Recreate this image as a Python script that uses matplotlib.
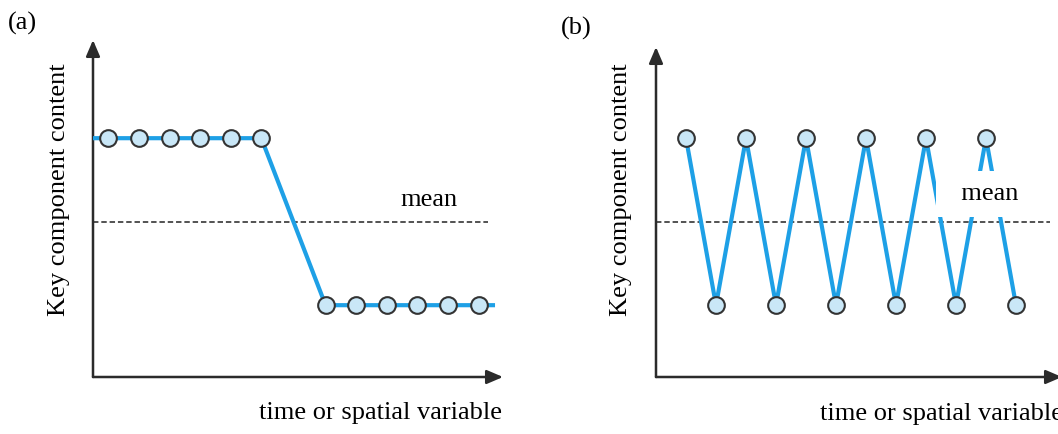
import matplotlib
matplotlib.use("Agg")
import matplotlib.pyplot as plt

plt.rcParams['font.family'] = ['Liberation Serif', 'DejaVu Serif']

# data (arbitrary units)
HIGH = 3.0
LOW = 1.0
MEAN = 2.0

a_high_x = [0.5, 1.5, 2.5, 3.5, 4.5, 5.5]
a_low_x = [7.6, 8.6, 9.6, 10.6, 11.6, 12.6]
a_line_x = [0.0] + a_high_x + a_low_x + [13.07]
a_line_y = [HIGH] * 7 + [LOW] * 7

b_x = [1, 2, 3, 4, 5, 6, 7, 8, 9, 10, 11, 12]
b_y = [HIGH, LOW] * 6

ylabel = 'Key component content'
xlabel = 'time or spatial variable'

W, H = 1058, 434
fig = plt.figure(figsize=(W / 100, H / 100), dpi=100)

line_c = '#1ea0e6'
face_c = '#c9e7f7'
edge_c = '#333333'
axis_c = '#2b2b2b'


def px_axes(x0, x1, ytop, ybot):
    return fig.add_axes([x0 / W, (H - ybot) / H, (x1 - x0) / W, (ybot - ytop) / H])


def draw_frame(ax):
    ax.set_axis_off()
    kw = dict(arrowstyle='-|>,head_length=0.7,head_width=0.3', color=axis_c, lw=1.8,
              shrinkA=0, shrinkB=0, mutation_scale=14)
    ax.annotate('', xy=(0, 1), xytext=(0, 0), xycoords='axes fraction', arrowprops=kw)
    ax.annotate('', xy=(1, 0), xytext=(0, 0), xycoords='axes fraction', arrowprops=kw)


ms = 12
mew = 1.5
fs = 19

# panel (a)
ax1 = px_axes(93, 503, 40, 377)
ax1.set_xlim(0, 410 / 30.6)
ax1.set_ylim(0.14, 0.14 + 337 / 83.5)
draw_frame(ax1)
ax1.hlines(MEAN, 0, 12.9, colors='#444444', linestyles=(0, (3, 1.6)), lw=1.3)
ax1.plot(a_line_x, a_line_y, color=line_c, lw=3, zorder=3)
ax1.plot(a_high_x + a_low_x, [HIGH] * 6 + [LOW] * 6, ls='none', marker='o', ms=ms,
         mfc=face_c, mec=edge_c, mew=mew, zorder=4)
ax1.text(10.98, 2.26, 'mean', fontsize=fs, ha='center', va='center')

# panel (b)
ax2 = px_axes(656, 1062, 47, 377)
ax2.set_xlim(0, 406 / 30)
ax2.set_ylim(0.14, 0.14 + 330 / 83.5)
draw_frame(ax2)
ax2.hlines(MEAN, 0, 13.13, colors='#444444', linestyles=(0, (3, 1.6)), lw=1.3)
ax2.plot(b_x, b_y, color=line_c, lw=3, zorder=3)
ax2.plot(b_x, b_y, ls='none', marker='o', ms=ms,
         mfc=face_c, mec=edge_c, mew=mew, zorder=4)
ax2.text(11.13, 2.33, '  mean  ', fontsize=fs, ha='center', va='center', zorder=5,
         bbox=dict(boxstyle='square,pad=0.45', fc='white', ec='none'))

# labels
fig.text(22 / W, 1 - 23 / H, '(a)', fontsize=fs, ha='center', va='center')
fig.text(576 / W, 1 - 28 / H, '(b)', fontsize=fs, ha='center', va='center')
fig.text(59 / W, 1 - 190 / H, ylabel, fontsize=fs, rotation=90, ha='center', va='center')
fig.text(621 / W, 1 - 190 / H, ylabel, fontsize=fs, rotation=90, ha='center', va='center')
fig.text(502 / W, 1 - 413 / H, xlabel, fontsize=fs, ha='right', va='center')
fig.text(820 / W, 1 - 414 / H, xlabel, fontsize=fs, ha='left', va='center')

fig.savefig('out.png', dpi=100, facecolor='white')
